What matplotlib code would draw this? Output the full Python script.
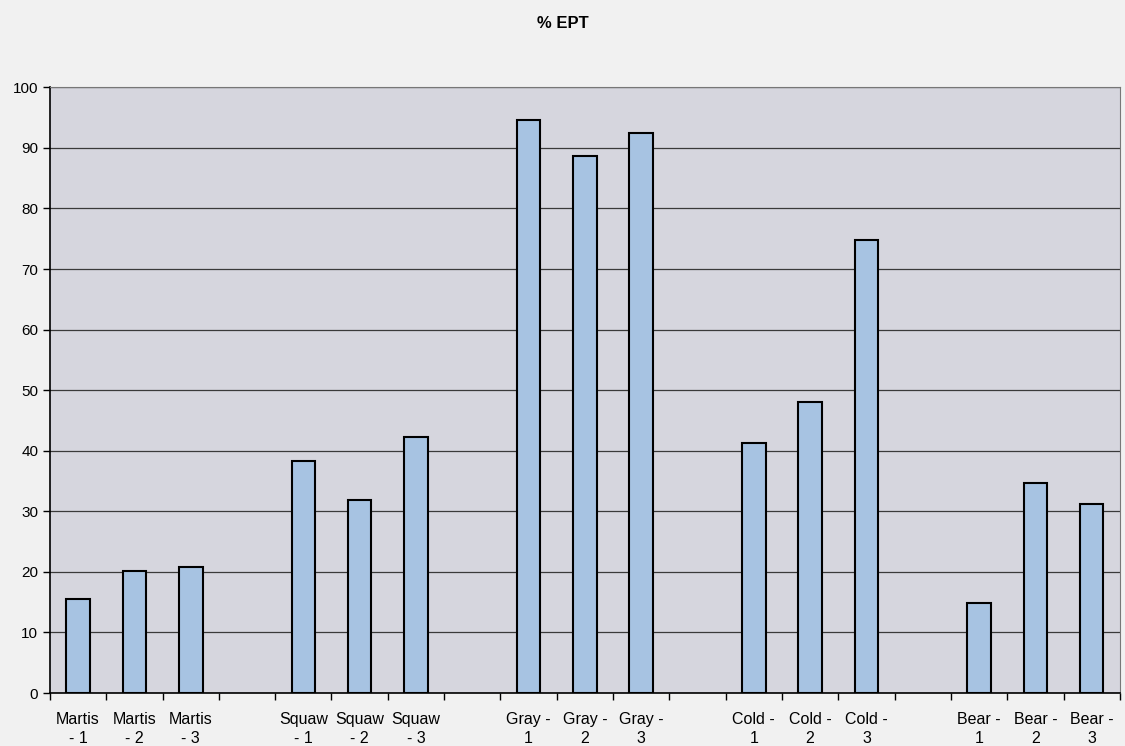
import matplotlib.pyplot as plt
import numpy as np

plt.rcParams['font.family'] = ['Liberation Sans', 'DejaVu Sans']

# category labels (blank slots separate the sites)
labels = ["Martis\n- 1", "Martis\n- 2", "Martis\n- 3", "",
          "Squaw\n- 1", "Squaw\n- 2", "Squaw\n- 3", "",
          "Gray -\n1", "Gray -\n2", "Gray -\n3", "",
          "Cold -\n1", "Cold -\n2", "Cold -\n3", "",
          "Bear -\n1", "Bear -\n2", "Bear -\n3"]
values = [15.6, 20.2, 20.8, np.nan,
          38.3, 31.9, 42.3, np.nan,
          94.6, 88.7, 92.4, np.nan,
          41.3, 48.0, 74.8, np.nan,
          14.8, 34.7, 31.2]
y_ticks = list(range(0, 101, 10))


def main():
    fig = plt.figure(figsize=(11.25, 7.46), dpi=100, facecolor='#f1f1f1')
    ax = fig.add_axes([0.0444, 0.071, 0.951, 0.812])
    ax.set_facecolor('#d6d6de')

    x = np.arange(len(labels))
    ax.bar(x, values, width=0.42, color='#a7c3e2', edgecolor='black', linewidth=1.5, zorder=3)

    ax.set_xlim(-0.5, len(labels) - 0.5)
    ax.set_ylim(0, 100)
    ax.set_yticks(y_ticks)
    ax.yaxis.grid(True, color='#3a3a3a', linewidth=0.9, zorder=1)
    ax.tick_params(axis='y', labelsize=11, length=5, direction='out', width=1)

    # ticks between categories, labels at centres
    ax.set_xticks(np.arange(-0.5, len(labels), 1.0))
    ax.set_xticklabels([])
    ax.tick_params(axis='x', which='major', length=5, direction='out', width=1)
    ax.set_xticks(x, minor=True)
    ax.set_xticklabels(labels, minor=True, fontsize=11.5, linespacing=1.3)
    ax.tick_params(axis='x', which='minor', length=0, pad=14)

    for side in ['top', 'right']:
        ax.spines[side].set_color('#777777')
        ax.spines[side].set_linewidth(0.8)
    ax.spines['left'].set_linewidth(1.2)
    ax.spines['bottom'].set_linewidth(1.2)

    fig.text(0.5, 0.968, "% EPT", ha='center', va='center', fontsize=12, fontweight='bold')

    fig.savefig('out.png', dpi=100, facecolor=fig.get_facecolor())


if __name__ == '__main__':
    main()
